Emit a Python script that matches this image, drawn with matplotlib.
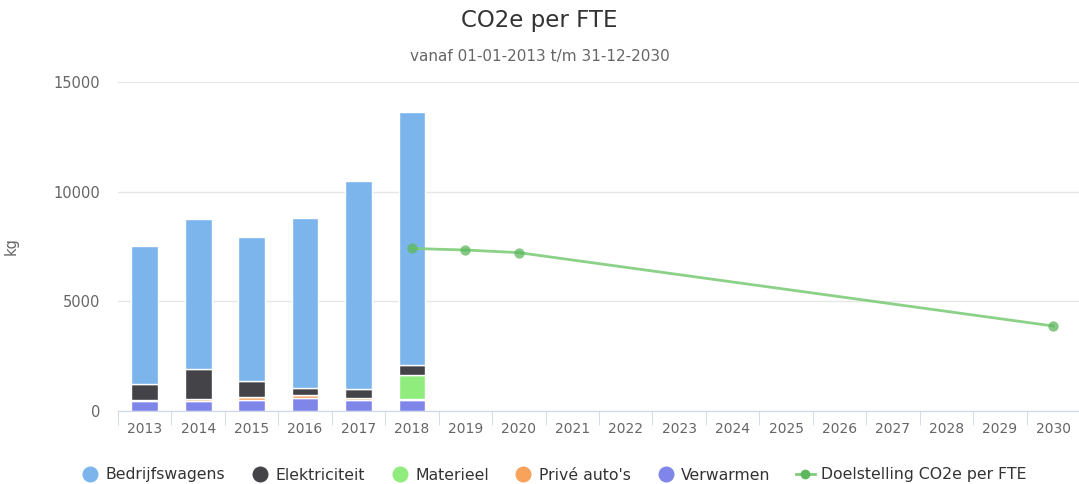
import numpy as np
import matplotlib
matplotlib.use("Agg")
import matplotlib.pyplot as plt
from matplotlib.lines import Line2D

years = [str(y) for y in range(2013, 2031)]
bar_years = ["2013", "2014", "2015", "2016", "2017", "2018"]

verwarmen = [440, 470, 520, 570, 520, 520]
prive = [40, 70, 110, 150, 90, 20]
materieel = [0, 0, 0, 0, 0, 1090]
elektriciteit = [740, 1360, 730, 320, 380, 450]
bedrijfswagens = [6300, 6850, 6570, 7760, 9510, 11570]

doel_years = ["2018", "2019", "2020", "2030"]
doel_values = [7410, 7340, 7220, 3875]

series = [
    ("Verwarmen", verwarmen, "#8085e9"),
    ("Privé auto's", prive, "#f7a35c"),
    ("Materieel", materieel, "#90ed7d"),
    ("Elektriciteit", elektriciteit, "#434348"),
    ("Bedrijfswagens", bedrijfswagens, "#7cb5ec"),
]

fig = plt.figure(figsize=(10.79, 4.84), dpi=100)
ax = fig.add_axes([118 / 1079, 73 / 484, 962 / 1079, 329 / 484])

xpos = {y: i for i, y in enumerate(years)}
bx = np.array([xpos[y] for y in bar_years])
bottom = np.zeros(len(bar_years))
for name, vals, col in series:
    vals = np.array(vals, dtype=float)
    ax.bar(bx, vals, bottom=bottom, width=0.5, color=col,
           edgecolor="white", linewidth=1, zorder=2)
    bottom += vals

dx = [xpos[y] for y in doel_years]
ax.plot(dx, doel_values, color="#7fcc7a", lw=2, zorder=3, alpha=0.9)
ax.scatter(dx, doel_values, s=55, color="#5cb85c", alpha=0.75, zorder=4, lw=0)

ax.set_xlim(-0.5, len(years) - 0.5)
ax.set_ylim(0, 15000)
ax.set_yticks([0, 5000, 10000, 15000])
ax.set_xticks(range(len(years)))
ax.set_xticklabels(years)
ax.set_xticks(np.arange(-0.5, len(years)), minor=True)
ax.grid(axis="y", color="#e6e6e6", lw=1, zorder=0)
for s in ["top", "right", "left"]:
    ax.spines[s].set_visible(False)
ax.spines["bottom"].set_color("#ccd6eb")
ax.tick_params(axis="x", which="major", length=0, labelsize=10, colors="#666666", pad=8)
ax.tick_params(axis="x", which="minor", length=10, color="#ccd6eb")
ax.tick_params(axis="y", length=0, labelsize=10.5, colors="#666666", pad=13)
ax.set_ylabel("kg", color="#666666", fontsize=10.5)
ax.yaxis.set_label_coords(-99 / 962, 0.5)

fig.text(0.5, 1 - 21 / 484, "CO2e per FTE", ha="center", va="center",
         fontsize=16.5, color="#333333")
fig.text(0.5, 1 - 56 / 484, "vanaf 01-01-2013 t/m 31-12-2030", ha="center",
         va="center", fontsize=11, color="#666666")

handles = []
for name, vals, col in reversed(series):
    handles.append(Line2D([], [], marker="o", ls="", color=col, markersize=10.5))
handles.append(Line2D([], [], marker="o", color="#7fcc7a", lw=2,
                      markerfacecolor="#5cb85c", markeredgewidth=0, markersize=7))
labels = [s[0] for s in reversed(series)] + ["Doelstelling CO2e per FTE"]
fig.legend(handles, labels, loc="center", bbox_to_anchor=(0.5 + 14 / 1079, 1 - 475 / 484),
           ncol=6, frameon=False, fontsize=11.3, handletextpad=0.4,
           columnspacing=1.6, labelcolor="#333333", handlelength=1.2)

fig.savefig("out.png", dpi=100)
